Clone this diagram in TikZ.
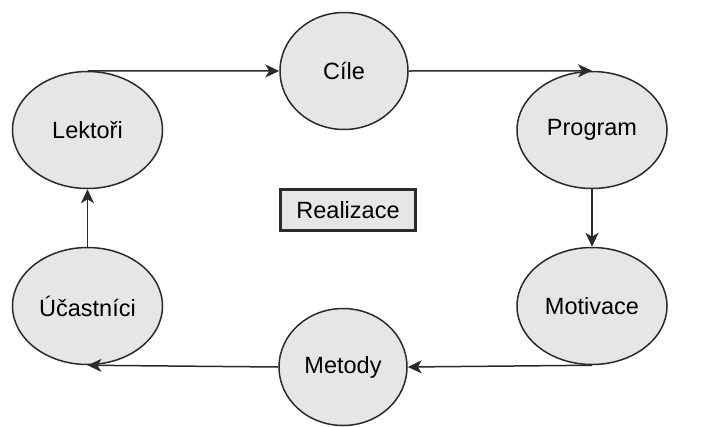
\documentclass[tikz,border=0pt]{standalone}
\usepackage{fontspec}
\setmainfont{Liberation Sans}
\usepackage{tikz}
\usetikzlibrary{positioning,arrows.meta,shapes.geometric}
\definecolor{fillgray}{HTML}{E6E6E6}
\definecolor{linegray}{HTML}{2A2A2A}
\tikzset{->,>={Stealth[length=14pt,width=13pt,inset=4pt]},
x=1pt,y=-1pt,
every edge/.append style={line width=1.5pt,draw=linegray},
el/.style={ellipse,draw=linegray,line width=1.5pt,fill=fillgray,inner sep=0pt,font=\fontsize{23.5}{27}\selectfont},
wide/.style={el,minimum width=150pt,minimum height=117pt},
round/.style={el,minimum width=128pt,minimum height=117pt},
box/.style={rectangle,draw=linegray,fill=fillgray,line width=2.2pt,minimum width=135pt,minimum height=41pt,inner sep=0pt,font=\fontsize{23.5}{27}\selectfont},
}

\begin{document}
\begin{tikzpicture}
\useasboundingbox (0,0) rectangle (709,426);
\node[wide] (lektori) at (87.5,130) {Lektoři};
\node[round] (cile) at (344,71) {Cíle};
\node[wide] (program) at (592,130) {Program};
\node[wide] (motivace) at (592,306) {Motivace};
\node[round] (metody) at (343,367) {Metody};
\node[wide] (ucastnici) at (87.5,306) {Účastníci};
\node[box] (realizace) at (348,210) {Realizace};

\path
(lektori.north) edge (cile.west)
(cile.east) edge (program.north)
(program.south) edge (motivace.north)
(motivace.south) edge (metody.east)
(metody.west) edge (ucastnici.south)
(ucastnici.north) edge (lektori.south)
;
\end{tikzpicture}
\end{document}
